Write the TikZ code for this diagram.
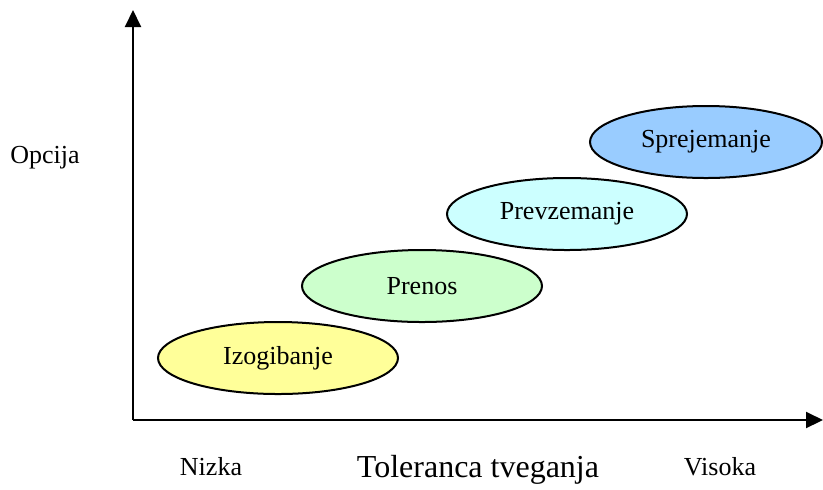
\documentclass[tikz,border=0pt]{standalone}
\usepackage{fontspec}
\setmainfont{Liberation Serif}
\usetikzlibrary{shapes.geometric,arrows.meta}
\definecolor{rumena}{HTML}{FFFF99}
\definecolor{zelena}{HTML}{CCFFCC}
\definecolor{cijan}{HTML}{CCFFFF}
\definecolor{modra}{HTML}{99CCFF}
\tikzstyle{opcija} = [ellipse,draw=black,line width=1pt,minimum width=120pt,minimum height=36pt,inner sep=0pt,text centered,font=\fontsize{13}{15}\selectfont]
\tikzstyle{napis} = [inner sep=0pt,font=\fontsize{13}{15}\selectfont]
\tikzstyle{os} = [line width=1pt,-{Triangle[length=8.5pt,width=8pt]}]
\begin{document}
\begin{tikzpicture}[x=0.5pt,y=-0.5pt]
\useasboundingbox (0,0) rectangle (823,489);

% axes
\coordinate (O) at (133,420);
\coordinate (ytop) at (133,10);
\coordinate (xend) at (823,420);

\node (izog) [opcija,fill=rumena] at (278,358) {Izogibanje};
\node (pren) [opcija,fill=zelena] at (422,286) {Prenos};
\node (prev) [opcija,fill=cijan] at (567,214) {Prevzemanje};
\node (sprej) [opcija,fill=modra,minimum width=116pt] at (706,142) {Sprejemanje};

\node (opc) [napis] at (45,158) {Opcija};
\node (nizka) [napis] at (211,467) {Nizka};
\node (visoka) [napis] at (720,467) {Visoka};
\node (tol) [inner sep=0pt,font=\fontsize{16}{18}\selectfont] at (478,470) {Toleranca tveganja};

\draw[os] (O) -- (ytop);
\draw[os] (O) -- (xend);
\end{tikzpicture}
\end{document}
